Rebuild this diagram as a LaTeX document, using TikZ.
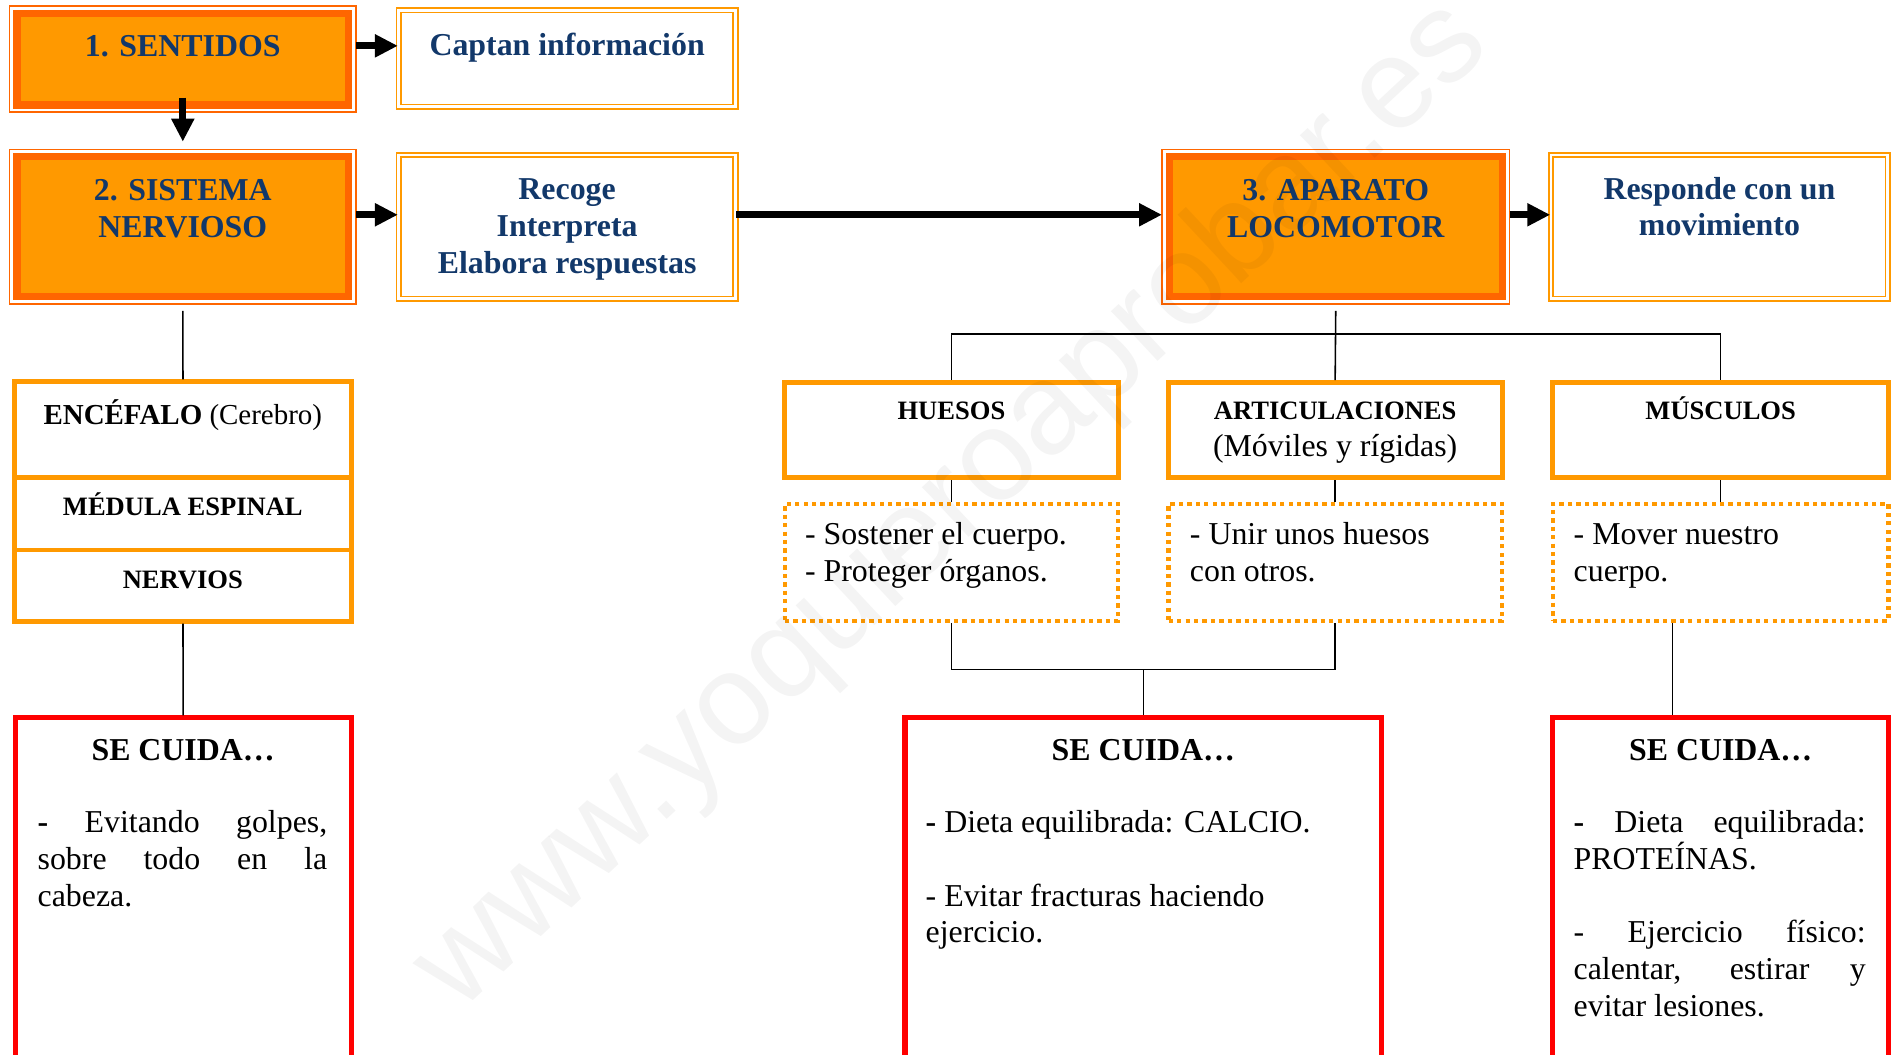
\documentclass[tikz,border=0pt]{standalone}
\usepackage{fontspec}
\setmainfont{Liberation Serif}
\newfontfamily\wmfont{Liberation Sans}
\usetikzlibrary{arrows.meta,calc}
\definecolor{orfill}{HTML}{FF9900}
\definecolor{ordark}{HTML}{FF6600}
\definecolor{navy}{HTML}{12386A}
\definecolor{rojo}{HTML}{FF0000}
\begin{document}
\begin{tikzpicture}[x=1pt,y=-1pt,
  tout/.style={draw=ordark, line width=1.2pt, inner sep=0pt, fill=white},
  tin/.style={draw=ordark, fill=orfill, line width=6pt, inner sep=0pt},
  dbox/.style={draw=orfill, double=white, double distance=2.2pt, line width=1.5pt, inner sep=0pt},
  obox/.style={draw=orfill, line width=4.1pt, inner sep=0pt},
  dotbox/.style={draw=orfill, line width=3.6pt, dash pattern=on 3.6pt off 3.4pt, inner sep=0pt},
  rbox/.style={draw=rojo, line width=4.2pt, inner sep=0pt},
  conn/.style={draw=black, line width=1.3pt},
  bigarr/.style={draw=black, line width=6pt, -{Triangle[length=19pt,width=18pt]}},
  ttl/.style={anchor=base, inner sep=0pt, text=navy, font=\fontsize{26.4}{31}\selectfont\bfseries},
  lbl/.style={anchor=base, inner sep=0pt, font=\fontsize{22}{30}\selectfont\bfseries},
  hdr/.style={anchor=base, inner sep=0pt, font=\fontsize{26.4}{31}\selectfont\bfseries},
  body/.style={anchor=base west, inner sep=0pt, font=\fontsize{26.4}{31}\selectfont},
  bodyc/.style={anchor=base, inner sep=0pt, font=\fontsize{26.4}{31}\selectfont}
]
\useasboundingbox (0,0) rectangle (1568,874);
\clip (0,0) rectangle (1568,874);
\fill[white] (0,0) rectangle (1568,874);

% ---- title boxes ----
\node[tout, minimum width=287, minimum height=88] (s1) at (151.5,49) {};
\node[tin, minimum width=275, minimum height=76] (s1in) at (s1.center) {};
\node[ttl] (t1) at (151.5,47) {1. SENTIDOS};

\node[dbox, minimum width=279, minimum height=80] (cap) at (470,48.5) {};
\node[ttl] (tcap) at (470,46) {Captan información};

\node[tout, minimum width=287, minimum height=128] (s2) at (151.5,188) {};
\node[tin, minimum width=275, minimum height=116] (s2in) at (s2.center) {};
\node[ttl] (t2a) at (151.5,166) {2. SISTEMA};
\node[ttl] (t2b) at (151.5,197) {NERVIOSO};

\node[dbox, minimum width=279, minimum height=119] (rec) at (470,188) {};
\node[ttl] (tr1) at (470,165) {Recoge};
\node[ttl] (tr2) at (470,196) {Interpreta};
\node[ttl] (tr3) at (470,227) {Elabora respuestas};

\node[tout, minimum width=288, minimum height=128] (a3) at (1107,188) {};
\node[tin, minimum width=276, minimum height=116] (a3in) at (a3.center) {};
\node[ttl] (t3a) at (1107,166) {3. APARATO};
\node[ttl] (t3b) at (1107,197) {LOCOMOTOR};

\node[dbox, minimum width=279, minimum height=119] (resp) at (1425,188) {};
\node[ttl] (tre1) at (1425,165) {Responde con un};
\node[ttl] (tre2) at (1425,195) {movimiento};

% ---- arrows ----
\draw[bigarr] ($(s1in.east |- 0,38)+(3,0)$) -- (cap.west |- 0,38);
\draw[bigarr] ($(s1in.south)+(0,-9)$) -- ($(s2.north)+(0,-6)$);
\draw[bigarr] ($(s2in.east |- 0,178)+(3,0)$) -- (rec.west |- 0,178);
\draw[bigarr] (rec.east |- 0,178) -- ($(a3in.west |- 0,178)+(-3,0)$);
\draw[bigarr] ($(a3in.east |- 0,178)+(3,0)$) -- (resp.west |- 0,178);

% ---- left column ----
\node[obox, minimum width=278.7, minimum height=79.6] (enc) at (151.65,356.2) {};
\node[obox, minimum width=278.7, minimum height=59.8] (med) at (151.65,425.9) {};
\node[obox, minimum width=278.7, minimum height=59] (ner) at (151.65,485.3) {};
\node[anchor=base, inner sep=0pt, font=\fontsize{24}{30}\selectfont] (tenc) at (151.5,351.7) {\textbf{ENCÉFALO} (Cerebro)};
\node[lbl] (tmed) at (151.5,427.6) {MÉDULA ESPINAL};
\node[lbl] (tner) at (151.5,487.6) {NERVIOS};
\draw[conn] ($(s2.south)+(0,5)$) -- (enc.north);

\node[rbox, minimum width=278.4, minimum height=305] (lc) at (151.8,747.5) {};
\draw[conn] (ner.south) -- (lc.north);
\node[hdr] (lch) at (151.8,630) {SE CUIDA…};
\node[body] (lc1) at (31,690) {\makebox[240pt][s]{\textbf{-} Evitando golpes,}};
\node[body] (lc2) at (31,720.5) {\makebox[240pt][s]{sobre todo en la}};
\node[body] (lc3) at (31,751) {cabeza.};

% ---- right section ----
\node[obox, minimum width=277, minimum height=79] (hue) at (788.5,356.5) {};
\node[obox, minimum width=277, minimum height=79] (art) at (1106.5,356.5) {};
\node[obox, minimum width=278, minimum height=79] (mus) at (1426,356.5) {};
\node[lbl] (thue) at (788.5,348) {HUESOS};
\node[lbl] (tart) at (1106.5,347.5) {ARTICULACIONES};
\node[bodyc] (tart2) at (1106.5,378) {(Móviles y rígidas)};
\node[lbl] (tmus) at (1426,348) {MÚSCULOS};

\draw[conn] ($(a3.south)+(0,5)$) -- (art.north);
\draw[conn] (hue.north) -- (hue.north |- 0,277) -- (mus.north |- 0,277) -- (mus.north);

\node[dotbox, minimum width=276, minimum height=97] (hd) at (788.5,466) {};
\node[dotbox, minimum width=276, minimum height=97] (ad) at (1106.5,466) {};
\node[dotbox, minimum width=278, minimum height=97] (md) at (1426,466) {};
\draw[conn] (hue.south) -- (hd.north);
\draw[conn] (art.south) -- (ad.north);
\draw[conn] (mus.south) -- (md.north);

\node[body] (hd1) at (667,451) {- Sostener el cuerpo.};
\node[body] (hd2) at (667,482) {- Proteger órganos.};
\node[body] (ad1) at (986,451) {- Unir unos huesos};
\node[body] (ad2) at (986,482) {con otros.};
\node[body] (md1) at (1304,451) {- Mover nuestro};
\node[body] (md2) at (1304,482) {cuerpo.};

\node[rbox, minimum width=395, minimum height=305] (mc) at (947.5,747.5) {};
\node[rbox, minimum width=278, minimum height=305] (rc) at (1426,747.5) {};
\draw[conn] (hd.south) -- (hd.south |- 0,555) -- (ad.south |- 0,555) -- (ad.south);
\coordinate (jn) at ($(hd.south |- 0,555)!0.5!(ad.south |- 0,555)$);
\draw[conn] (jn) -- (mc.north);
\draw[conn] ($(md.south)+(-40,0)$) -- ($(rc.north)+(-40,0)$);

\node[hdr] (mch) at (947.5,630) {SE CUIDA…};
\node[body] (mc1) at (767,690) {\textbf{-} Dieta equilibrada: CALCIO.};
\node[body] (mc2) at (767,751) {- Evitar fracturas haciendo};
\node[body] (mc3) at (767,781.5) {ejercicio.};

\node[hdr] (rch) at (1426,630) {SE CUIDA…};
\node[body] (rc1) at (1304,690) {\makebox[242pt][s]{\textbf{-} Dieta equilibrada:}};
\node[body] (rc2) at (1304,720.5) {PROTEÍNAS.};
\node[body] (rc3) at (1304,781.5) {\makebox[242pt][s]{- Ejercicio físico:}};
\node[body] (rc4) at (1304,812) {\makebox[242pt][s]{calentar, estirar y}};
\node[body] (rc5) at (1304,842.5) {evitar lesiones.};

% ---- watermark ----
\node[rotate=43, text=black, text opacity=0.045, inner sep=0pt, font=\wmfont\fontsize{107}{107}\selectfont] (wm) at (790,420) {www.yoquieroaprobar.es};
\end{tikzpicture}
\end{document}
